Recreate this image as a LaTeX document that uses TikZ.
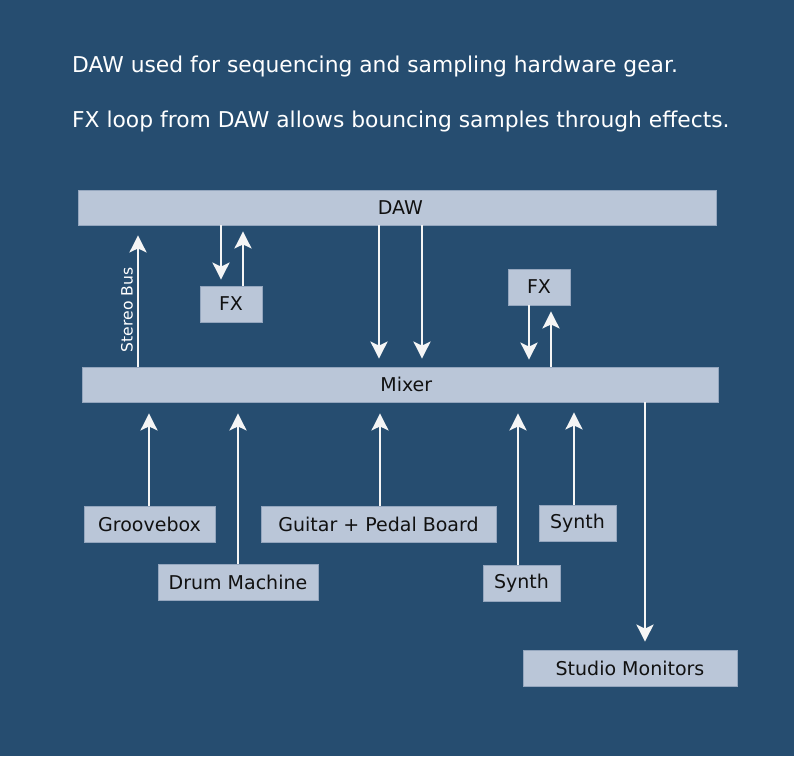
\documentclass[tikz,border=0pt]{standalone}
\usepackage{fontspec}
\setmainfont{DejaVu Sans}
\usetikzlibrary{arrows.meta}
\definecolor{bg}{HTML}{264D70}
\definecolor{boxfill}{HTML}{BAC6D8}
\definecolor{boxline}{HTML}{94A6BE}
\definecolor{arrw}{HTML}{F5F5F5}
\definecolor{txt}{HTML}{111111}
\tikzset{
  blk/.style={draw=boxline, line width=0.8pt, fill=boxfill, inner sep=0pt, text=txt,
    font=\fontsize{19}{22}\selectfont},
  arr/.style={draw=arrw, line width=2.7pt, -{Stealth[length=17pt,width=17pt,inset=4pt]}},
  head/.style={text=white, anchor=base west, inner sep=0pt, font=\fontsize{21.8}{24}\selectfont},
}
\begin{document}
\begin{tikzpicture}[x=1pt,y=-1pt]
\fill[bg] (0,0) rectangle (794,756);
\useasboundingbox (0,0) rectangle (794,756);
\node[head] (t1) at (72,72) {DAW used for sequencing and sampling hardware gear.};
\node[head] (t2) at (72,127) {FX loop from DAW allows bouncing samples through effects.};

\node[blk, minimum width=638pt, minimum height=35pt] (daw) at (397.3,207.5) {\hspace*{6pt}DAW};
\node[blk, minimum width=636pt, minimum height=35pt] (mix) at (400.3,384.5) {\hspace*{12pt}Mixer};
\node[blk, minimum width=62pt, minimum height=36pt] (fx1) at (231,304) {FX};
\node[blk, minimum width=62pt, minimum height=36pt] (fx2) at (539,287) {FX};
\node[blk, minimum width=131pt, minimum height=36pt] (gb) at (149.5,524) {Groovebox};
\node[blk, minimum width=160pt, minimum height=36pt] (dm) at (238,582) {Drum Machine};
\node[blk, minimum width=235pt, minimum height=36pt] (gt) at (378.5,524) {Guitar + Pedal Board};
\node[blk, minimum width=77pt, minimum height=36pt] (s1) at (577.5,523) {Synth};
\node[blk, minimum width=77pt, minimum height=36pt] (s2) at (521.5,583) {Synth};
\node[blk, minimum width=214pt, minimum height=36pt] (mon) at (630,668) {Studio Monitors};

% stereo bus
\draw[arr, shorten >=10pt] (138,0 |- mix.north) -- (138,0 |- daw.south);
\node[text=white, rotate=90, font=\fontsize{15.6}{18}\selectfont, inner sep=0pt] (sb) at (127,310) {Stereo Bus};
% FX1 loop
\draw[arr, shorten >=6pt] (221,0 |- daw.south) -- (221,0 |- fx1.north);
\draw[arr, shorten >=6pt] (243,0 |- fx1.north) -- (243,0 |- daw.south);
% DAW to mixer
\draw[arr, shorten >=8pt] (379,0 |- daw.south) -- (379,0 |- mix.north);
\draw[arr, shorten >=8pt] (422,0 |- daw.south) -- (422,0 |- mix.north);
% FX2 loop
\draw[arr, shorten >=7pt] (529,0 |- fx2.south) -- (529,0 |- mix.north);
\draw[arr, shorten >=6pt] (551,0 |- mix.north) -- (551,0 |- fx2.south);
% sources
\draw[arr, shorten >=11pt] (149,0 |- gb.north) -- (149,0 |- mix.south);
\draw[arr, shorten >=11pt] (238,0 |- dm.north) -- (238,0 |- mix.south);
\draw[arr, shorten >=11pt] (380,0 |- gt.north) -- (380,0 |- mix.south);
\draw[arr, shorten >=11pt] (518,0 |- s2.north) -- (518,0 |- mix.south);
\draw[arr, shorten >=10pt] (574,0 |- s1.north) -- (574,0 |- mix.south);
% monitors
\draw[arr, shorten >=8pt] (645,0 |- mix.south) -- (645,0 |- mon.north);
\end{tikzpicture}
\end{document}
